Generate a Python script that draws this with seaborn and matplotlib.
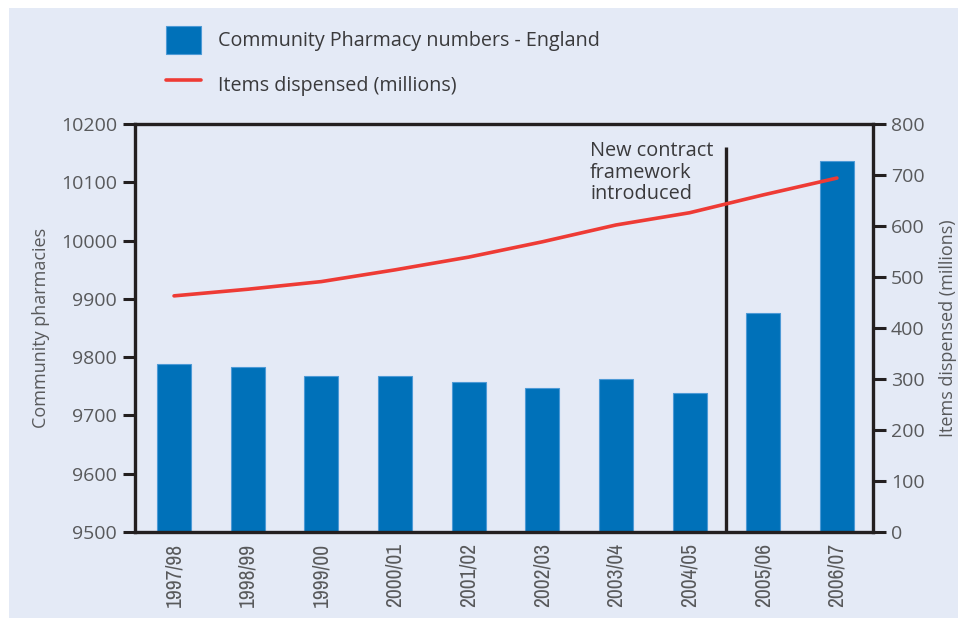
import matplotlib
matplotlib.use("Agg")
import matplotlib.pyplot as plt
from matplotlib.patches import Rectangle, Patch
from matplotlib.lines import Line2D
from matplotlib import font_manager
import numpy as np
import pandas as pd
import seaborn as sns

years = ["1997/98", "1998/99", "1999/00", "2000/01", "2001/02",
         "2002/03", "2003/04", "2004/05", "2005/06", "2006/07"]
pharmacies = [9788, 9783, 9767, 9767, 9757, 9747, 9762, 9738, 9875, 10137]
items_dispensed = [463, 476, 491, 514, 539, 569, 602, 626, 661, 694]
left_ticks = [9500, 9600, 9700, 9800, 9900, 10000, 10100, 10200]
right_ticks = [0, 100, 200, 300, 400, 500, 600, 700, 800]

sns.set_theme(style="white")
installed = {f.name for f in font_manager.fontManager.ttflist}
main_font = "Open Sans" if "Open Sans" in installed else "DejaVu Sans"
narrow_candidates = [n for n in sorted(installed)
                     if "Narrow" in n or "Condensed" in n]
narrow_font = narrow_candidates[0] if narrow_candidates else None
plt.rcParams["font.family"] = [main_font, "DejaVu Sans"]

BG = "#e4eaf6"
BLUE = "#0071b9"
RED = "#ee3b35"
INK = "#231f20"
GREY = "#58595b"
TEXT = "#3a3a3c"

fig = plt.figure(figsize=(9.59, 6.18), dpi=100, facecolor="white")
fig.patches.append(Rectangle((9 / 959, 0), 949 / 959, 610 / 618,
                             transform=fig.transFigure, facecolor=BG,
                             edgecolor="none", zorder=-10))
ax = fig.add_axes([135 / 959, 1 - 532 / 618, 738 / 959, 408 / 618])
ax.set_facecolor(BG)

df = pd.DataFrame({"year": years, "pharmacies": pharmacies,
                   "items": items_dispensed, "pos": np.arange(len(years))})

sns.barplot(data=df, x="year", y="pharmacies", color=BLUE, width=0.46,
            saturation=1, edgecolor="#4d9ad6", linewidth=0.8, ax=ax, zorder=2)
ax.set_ylim(9500, 10200)
ax.set_xlim(-0.53, 9.49)
ax.set_yticks(left_ticks)
ax.set_yticklabels([str(t) for t in left_ticks])
ax.set_xlabel("")
ax.set_ylabel("Community pharmacies", fontsize=13, color=GREY, labelpad=8)

ax2 = ax.twinx()
sns.lineplot(data=df, x="pos", y="items", color=RED, linewidth=2.6, ax=ax2,
             zorder=3)
ax2.set_ylim(0, 800)
ax2.set_yticks(right_ticks)
ax2.set_yticklabels([str(t) for t in right_ticks])
ax2.set_xlabel("")
ax2.set_ylabel("Items dispensed (millions)", fontsize=13, color=GREY,
               rotation=90, labelpad=10)

for a in (ax, ax2):
    for s in a.spines.values():
        s.set_visible(False)
    a.tick_params(axis="y", direction="out", length=9, width=2.2, color=INK,
                  labelsize=14, labelcolor=GREY, pad=4)
for a, side in ((ax, "left"), (ax, "bottom"), (ax, "top"), (ax2, "right")):
    a.spines[side].set_visible(True)
    a.spines[side].set_color(INK)
    a.spines[side].set_linewidth(2.4)

ax.tick_params(axis="x", length=0, pad=8)
for lbl in ax.get_xticklabels():
    lbl.set_rotation(90)
    lbl.set_color(GREY)
    if narrow_font:
        lbl.set_fontfamily(narrow_font)
        lbl.set_fontsize(15.5)
    else:
        lbl.set_fontsize(12.5)
        lbl.set_fontstretch("condensed")

# contract change marker between 2004/05 and 2005/06
ax.plot([7.5, 7.5], [9500, 10160], color=INK, linewidth=2.4, zorder=4,
        solid_capstyle="butt")
ax.text(5.65, 10170, "New contract\nframework\nintroduced", ha="left",
        va="top", fontsize=14.3, color=TEXT, linespacing=1.1)

handles = [Patch(facecolor=BLUE, edgecolor="#4d9ad6", linewidth=0.8),
           Line2D([0], [0], color=RED, linewidth=2.6)]
labels = ["Community Pharmacy numbers - England", "Items dispensed (millions)"]
fig.legend(handles, labels, loc="upper left",
           bbox_to_anchor=(148 / 959, 1 - 8 / 618), frameon=False,
           fontsize=14.2, labelcolor=TEXT, handlelength=1.8,
           handleheight=1.85, handletextpad=0.85, labelspacing=0.8)

fig.savefig("out.png", dpi=100, facecolor="white")
